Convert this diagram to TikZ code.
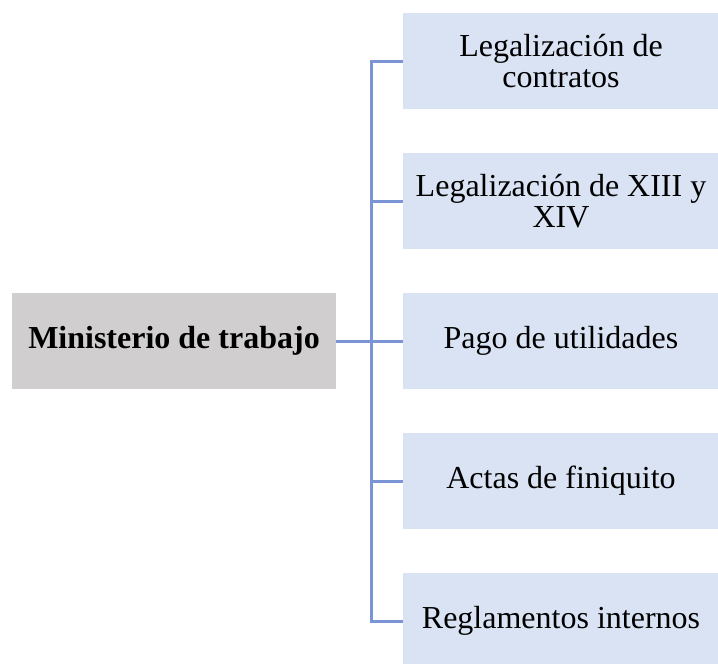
\documentclass[tikz,border=0pt]{standalone}
\usepackage{fontspec}
\setmainfont{Liberation Serif}
\usepackage{tikz}
\usetikzlibrary{arrows}
\definecolor{itemblue}{RGB}{218,227,243}
\definecolor{headgray}{RGB}{208,206,206}
\definecolor{linkblue}{RGB}{122,148,214}
\tikzset{
every node/.style={rectangle, inner sep=2pt, align=center, font=\fontsize{32}{31}\selectfont},
head/.style={fill=headgray, minimum width=324, minimum height=96, font=\fontsize{32}{31}\selectfont\bfseries},
item/.style={fill=itemblue, minimum width=316, minimum height=96},
link/.style={draw=linkblue, line width=3pt}
}
\begin{document}
\begin{tikzpicture}[x=1pt, y=-1pt]
\useasboundingbox (0,0) rectangle (718,664);
\node [head] (MT) at (174,341) {Ministerio de trabajo};
\node [item] (LC) at (561,61) {Legalización de\\contratos};
\node [item] (LX) at (561,201) {Legalización de XIII y\\XIV};
\node [item] (PU) at (561,341) {Pago de utilidades};
\node [item] (AF) at (561,481) {Actas de finiquito};
\node [item] (RI) at (561,621) {Reglamentos internos};

\draw [link] (MT.east) -- (PU.west);
\draw [link] (LC.west) -- ++(-31,0) |- (RI.west);
\draw [link] (LX.west) -- ++(-31,0);
\draw [link] (AF.west) -- ++(-31,0);
\end{tikzpicture}
\end{document}
